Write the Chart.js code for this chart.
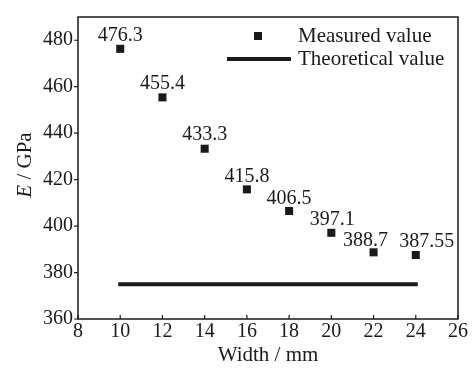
<!DOCTYPE html>
<html>
<head>
<meta charset="utf-8">
<script src="https://cdn.jsdelivr.net/npm/chart.js@4/dist/chart.umd.min.js"></script>
<style>
  html, body { margin: 0; padding: 0; background: #fff; }
  #wrap { width: 474px; height: 369px; }
</style>
</head>
<body>
<div id="wrap"><canvas id="myChart" width="474" height="369"></canvas></div>
<script>
// data
var widths = [10, 12, 14, 16, 18, 20, 22, 24];
var measured = [476.3, 455.4, 433.3, 415.8, 406.5, 397.1, 388.7, 387.55];
var measuredText = ['476.3', '455.4', '433.3', '415.8', '406.5', '397.1', '388.7', '387.55'];
var theoryX = [10, 24];
var theoryY = [375, 375];
var xTicks = [8, 10, 12, 14, 16, 18, 20, 22, 24, 26];
var yTicks = [360, 380, 400, 420, 440, 460, 480];

var INK = '#1a1a1a';
var FONT = '"Liberation Serif", "Times New Roman", serif';

// frame, inward/outward tick marks, value labels, legend, axis titles
var decorations = {
  id: 'decorations',
  afterDraw: function (chart) {
    var ctx = chart.ctx;
    var a = chart.chartArea;
    var xs = chart.scales.x, ys = chart.scales.y;
    ctx.save();
    ctx.strokeStyle = INK;
    ctx.fillStyle = INK;
    ctx.lineWidth = 1.5;
    ctx.strokeRect(a.left, a.top, a.right - a.left, a.bottom - a.top);

    ctx.lineWidth = 1.2;
    ctx.beginPath();
    xTicks.forEach(function (v) {
      var px = xs.getPixelForValue(v);
      ctx.moveTo(px, a.bottom);
      ctx.lineTo(px, a.bottom - 4);
    });
    yTicks.forEach(function (v) {
      var py = ys.getPixelForValue(v);
      ctx.moveTo(a.left, py);
      ctx.lineTo(a.left - 4, py);
    });
    ctx.stroke();

    // value labels above markers
    var dx = [0, 0, 0, 0, 0, 1, -8, 11];
    var dy = [-8, -8, -9, -7, -7, -8, -6, -8];
    ctx.font = '20px ' + FONT;
    ctx.textAlign = 'center';
    ctx.textBaseline = 'alphabetic';
    widths.forEach(function (w, i) {
      var px = xs.getPixelForValue(w);
      var py = ys.getPixelForValue(measured[i]);
      ctx.fillText(measuredText[i], px + dx[i], py + dy[i]);
    });

    // legend
    ctx.font = '21px ' + FONT;
    ctx.textAlign = 'left';
    ctx.textBaseline = 'middle';
    ctx.fillRect(254, 32, 8, 8);
    ctx.fillText('Measured value', 298, 36);
    ctx.lineWidth = 4;
    ctx.beginPath();
    ctx.moveTo(227, 59);
    ctx.lineTo(291, 59);
    ctx.stroke();
    ctx.fillText('Theoretical value', 298, 59);

    // axis titles
    ctx.textAlign = 'center';
    ctx.textBaseline = 'middle';
    ctx.fillText('Width / mm', (a.left + a.right) / 2, 355);

    ctx.translate(25, 165);
    ctx.rotate(-Math.PI / 2);
    ctx.textAlign = 'left';
    ctx.font = 'italic 21px ' + FONT;
    var wE = ctx.measureText('E').width;
    ctx.font = '21px ' + FONT;
    var wRest = ctx.measureText(' / GPa').width;
    var start = -(wE + wRest) / 2;
    ctx.font = 'italic 21px ' + FONT;
    ctx.fillText('E', start, 0);
    ctx.font = '21px ' + FONT;
    ctx.fillText(' / GPa', start + wE, 0);
    ctx.restore();
  }
};

var ctx = document.getElementById('myChart').getContext('2d');
var myChart = new Chart(ctx, {
  type: 'scatter',
  data: {
    datasets: [
      {
        label: 'Measured value',
        data: widths.map(function (w, i) { return { x: w, y: measured[i] }; }),
        pointStyle: 'rect',
        pointRadius: 5.7,
        pointHoverRadius: 5.7,
        backgroundColor: INK,
        borderColor: INK,
        borderWidth: 0
      },
      {
        label: 'Theoretical value',
        type: 'line',
        data: theoryX.map(function (x, i) { return { x: x, y: theoryY[i] }; }),
        borderColor: INK,
        borderWidth: 4,
        borderCapStyle: 'square',
        pointRadius: 0,
        fill: false
      }
    ]
  },
  options: {
    responsive: false,
    animation: false,
    layout: { padding: { top: 12, right: 16, left: 0, bottom: 0 } },
    plugins: {
      legend: { display: false },
      tooltip: { enabled: false }
    },
    scales: {
      x: {
        type: 'linear',
        min: 8,
        max: 26,
        afterBuildTicks: function (s) { s.ticks = xTicks.map(function (v) { return { value: v }; }); },
        afterFit: function (s) { s.height = 50; },
        grid: { display: false, drawTicks: false },
        border: { display: false },
        ticks: { color: INK, font: { family: FONT, size: 20 }, padding: 1, maxRotation: 0, autoSkip: false }
      },
      y: {
        min: 360,
        max: 490,
        afterBuildTicks: function (s) { s.ticks = yTicks.map(function (v) { return { value: v }; }); },
        afterFit: function (s) { s.width = 78; },
        grid: { display: false, drawTicks: false },
        border: { display: false },
        ticks: { color: INK, font: { family: FONT, size: 20 }, padding: 5 }
      }
    }
  },
  plugins: [decorations]
});
</script>
</body>
</html>
